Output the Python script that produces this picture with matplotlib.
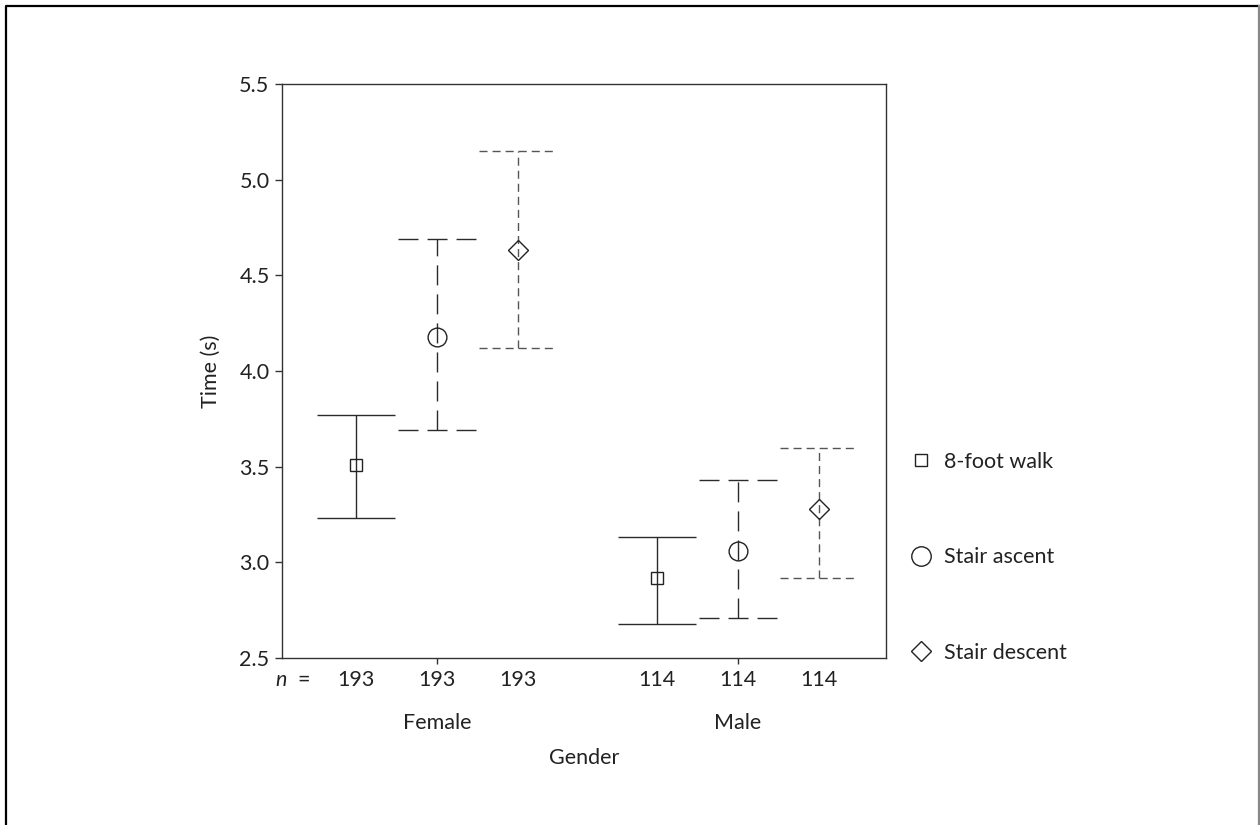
import matplotlib
matplotlib.use("Agg")
import matplotlib.pyplot as plt
from matplotlib.lines import Line2D
import numpy as np

plt.rcParams['font.family'] = ['Lato', 'DejaVu Sans']

genders = ["Female", "Male"]
tests = ["8-foot walk", "Stair ascent", "Stair descent"]
n_counts = [[193, 193, 193], [114, 114, 114]]
means = {
    "8-foot walk":   [3.51, 2.92],
    "Stair ascent":  [4.18, 3.06],
    "Stair descent": [4.63, 3.28],
}
upper = {
    "8-foot walk":   [3.77, 3.13],
    "Stair ascent":  [4.69, 3.43],
    "Stair descent": [5.15, 3.60],
}
lower = {
    "8-foot walk":   [3.23, 2.68],
    "Stair ascent":  [3.69, 2.71],
    "Stair descent": [4.12, 2.92],
}
yticks = [2.5, 3.0, 3.5, 4.0, 4.5, 5.0, 5.5]

FS = 15.5
TXT = "#222222"
styles = {
    "8-foot walk":   dict(ls="-", color="#2a2a2a", marker="s", ms=8.5, lms=8),
    "Stair ascent":  dict(ls=(0, (14.4, 6.5)), color="#2a2a2a", marker="o", ms=13.5, lms=14),
    "Stair descent": dict(ls=(0, (5.8, 3.6)), color="#555555", marker="D", ms=10, lms=10),
}
offsets = [-0.27, 0.0, 0.27]
cap_hw = 0.129

fig = plt.figure(figsize=(12.6, 8.25), dpi=100)
ax = fig.add_axes([282/1260, 1-658/825, (886-282)/1260, (658-84)/825])

centers = np.arange(len(genders))
for k, t in enumerate(tests):
    st = styles[t]
    xs = centers + offsets[k]
    ax.vlines(xs, lower[t], upper[t], colors=st["color"], linestyles=[st["ls"]], lw=1.0)
    ax.hlines(upper[t], xs - cap_hw, xs + cap_hw, colors=st["color"], linestyles=[st["ls"]], lw=1.0)
    ax.hlines(lower[t], xs - cap_hw, xs + cap_hw, colors=st["color"], linestyles=[st["ls"]], lw=1.0)
    ax.plot(xs, means[t], ls="none", marker=st["marker"], ms=st["ms"],
            mfc="none", mec="#222222", mew=1.0, zorder=3)

ax.set_xlim(-0.515, 1.492)
ax.set_ylim(2.5, 5.5)
ax.set_yticks(yticks)
ax.set_yticklabels([f"{v:.1f}" for v in yticks], fontsize=FS, color=TXT)
ax.set_xticks(centers)
ax.set_xticklabels(genders, fontsize=FS, color=TXT)
ax.tick_params(axis="x", length=4, width=1, pad=35.5, color="#333333")
ax.tick_params(axis="y", length=5, width=1, pad=4, color="#333333")
for s in ax.spines.values():
    s.set_color("#333333")
    s.set_linewidth(1.0)

ax.set_ylabel("Time (s)", fontsize=FS, labelpad=13, color=TXT)
ax.set_xlabel("Gender", fontsize=FS, labelpad=11, color=TXT)

# n = row
trans = ax.get_xaxis_transform()
for g in range(len(genders)):
    for k in range(len(tests)):
        ax.text(centers[g] + offsets[k], -0.038, str(n_counts[g][k]), transform=trans,
                ha="center", va="center", fontsize=FS, color=TXT)
ax.text((281 - 437) / 301, -0.038, "n", style="italic", transform=trans,
        ha="center", va="center", fontsize=FS, color=TXT)
ax.text((303.5 - 437) / 301, -0.038, "=", transform=trans,
        ha="center", va="center", fontsize=FS, color=TXT)

# legend (markers only)
handles = [Line2D([], [], ls="none", marker=styles[t]["marker"], ms=styles[t]["lms"],
                  mfc="none", mec="#222222", mew=1.0) for t in tests]
leg = ax.legend(handles, tests, loc="upper left", bbox_to_anchor=(1.0437, 0.359),
                frameon=False, fontsize=FS, labelspacing=3.5, handlelength=0.8,
                handletextpad=0.67, borderaxespad=0, borderpad=0)
for txt in leg.get_texts():
    txt.set_color(TXT)

# figure border
fig.add_artist(Line2D([6/1260, 6/1260, 1259/1260], [0, 1-6/825, 1-6/825],
                      transform=fig.transFigure, color="black", lw=1.6))
fig.add_artist(Line2D([1259/1260, 1259/1260], [1-6/825, 0],
                      transform=fig.transFigure, color="#888888", lw=1.6))

fig.savefig("out.png", dpi=100)
